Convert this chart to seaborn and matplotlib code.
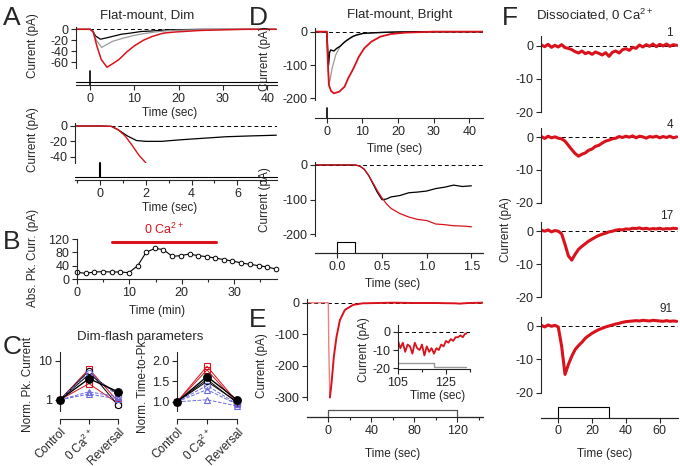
import numpy as np
import pandas as pd
import seaborn as sns
import matplotlib.pyplot as plt

sns.set_style("ticks")
plt.rcParams['font.family'] = ['Liberation Sans', 'DejaVu Sans']
plt.rcParams['axes.unicode_minus'] = False
plt.rcParams['mathtext.default'] = 'regular'

RED = "#d9121c"
GRAY = "#9a9a9a"
BLUE = "#6a6ae0"

# ---- A: flat-mount, dim flash (long time base)
a1_black_t = [-3.2, 0, 0.6, 1.2, 2.3, 4, 7, 9, 11.5, 14, 17.5, 21, 25, 30, 42]
a1_black_v = [0, 0, -3, -12, -18, -15, -9, -7, -4, -3, -1, -0.5, 0, 0, 0]
a1_gray_t = [-3.2, 0, 0.6, 1.4, 2.6, 5, 7.5, 10, 12, 14.5, 17, 19, 23, 30, 42]
a1_gray_v = [0, 0, -4, -20, -33, -22, -16, -11, -8, -5, -3, -2, -1, 0, 0]
a1_red_t = [-3.2, 0, 0.7, 1.5, 2.5, 3.8, 5, 6.5, 8.3, 10, 12, 14, 16.5, 19, 21, 25, 30, 35, 42]
a1_red_v = [0, 0, -5, -30, -55, -69, -63, -55, -41, -30, -20, -13, -7, -5, -4, -2, -1, 0, 0]

# ---- A: short time base
a2_black_t = [-1.1, 0, 0.5, 0.8, 1.2, 1.6, 2.0, 2.7, 3.5, 4.5, 5.5, 6.5, 7.7]
a2_black_v = [0, 0, -0.5, -5, -13, -19, -20, -20, -18, -16, -14, -13, -12]
a2_red_t = [-1.1, 0, 0.5, 0.8, 1.1, 1.4, 1.7, 2.0]
a2_red_v = [0, 0, -0.5, -5, -13, -25, -38, -48]

# ---- B: absolute peak current vs time
b_time = [0, 1.7, 3.3, 5.0, 6.6, 8.3, 9.9, 11.6, 13.2, 14.9, 16.5, 18.2, 19.8,
          21.5, 23.1, 24.8, 26.4, 28.1, 29.7, 31.4, 33.0, 34.7, 36.3, 38.0]
b_curr = [20, 17, 21, 22, 21, 21, 19, 40, 80, 92, 88, 68, 70,
          75, 70, 67, 63, 58, 54, 48, 44, 40, 36, 30]
b_bar = [6.7, 26.5]

# ---- C: dim flash parameters (Control, 0 Ca, Reversal)
c_cond = ["Control", "0 Ca$^{2+}$", "Reversal"]
c_series = ["red_sq1", "red_sq2", "blk_o", "blk_line", "blu_o", "blu_tri1", "blu_tri2", "mean"]
c_pk = {
    "red_sq1": [1, 6.2, 0.9],
    "red_sq2": [1, 2.6, 0.8],
    "blk_o": [1, 5.6, 0.72],
    "blk_line": [1, 4.5, 1.4],
    "blu_o": [1, 5.0, 1.25],
    "blu_tri1": [1, 1.6, 1.2],
    "blu_tri2": [1, 1.4, 1.05],
    "mean": [1, 3.5, 1.6],
}
c_ttp = {
    "red_sq1": [1, 1.87, 1.0],
    "red_sq2": [1, 1.78, 0.97],
    "blk_o": [1, 1.5, 1.0],
    "blk_line": [1, 1.55, 0.98],
    "blu_o": [1, 1.4, 0.95],
    "blu_tri1": [1, 1.3, 0.94],
    "blu_tri2": [1, 1.05, 0.9],
    "mean": [1, 1.62, 1.05],
}

# ---- D: flat-mount, bright flash
d1_black_t = [-3.3, 0, 0.2, 0.5, 0.8, 1.1, 2.0, 2.8, 3.7, 4.6, 5.5, 6.5, 7.4, 8.3, 10.2, 12, 13.9, 16, 19.4, 25, 30, 43.8]
d1_black_v = [0, 0, -40, -100, -62, -55, -58, -50, -44, -35, -27, -20, -14, -10, -5, -4, -3, -2, -1, 0, 0, 0]
d1_gray_t = [-3.3, 0, 0.3, 0.6, 1.0, 1.5, 2.5, 3.7, 5, 7, 10, 14, 20, 43.8]
d1_gray_v = [0, 0, -90, -160, -140, -110, -70, -45, -30, -15, -6, -3, -1, 0]
d1_red_t = [-3.3, 0, 0.3, 0.6, 1.2, 2.0, 3.5, 5, 6, 7.5, 9, 10.5, 12.5, 15, 18, 22, 30, 43.8]
d1_red_v = [0, 0, -90, -160, -178, -185, -180, -165, -140, -110, -75, -50, -30, -15, -7, -3, 0, 0]

d2_black_t = [-0.25, 0.0, 0.2, 0.25, 0.3, 0.35, 0.4, 0.45, 0.5, 0.55, 0.6, 0.7, 0.8, 0.9, 1.0, 1.1, 1.2, 1.3, 1.4, 1.5]
d2_black_v = [0, 0, 0, -3, -12, -30, -55, -80, -100, -98, -92, -88, -80, -78, -75, -68, -64, -58, -62, -60]
d2_red_t = [-0.25, 0.0, 0.2, 0.25, 0.3, 0.35, 0.4, 0.45, 0.5, 0.55, 0.6, 0.7, 0.8, 0.9, 1.0, 1.1, 1.2, 1.3, 1.4, 1.5]
d2_red_v = [0, 0, 0, -3, -12, -30, -52, -75, -95, -112, -125, -140, -150, -157, -160, -170, -172, -175, -176, -178]

# ---- E: long step, bright
e_t = [-20, 0, 0.5, 1.5, 3, 5.2, 7.7, 10.8, 15.4, 23, 32, 45, 60, 80, 100, 118, 122, 130, 143.9]
e_v = [0, 0, -150, -300, -255, -170, -107, -55, -23, -7, -2, -1, 0, -1, -1, -2, -3, -1, 0]
e_in_t = [105, 106, 107, 108, 109, 110, 111, 112, 113, 114, 115, 116, 117, 118, 119, 120,
          121, 122, 123, 124, 125, 126, 127, 128, 129, 130, 131, 132, 133, 133.5]
e_in_v = [-5, -9, -6, -11, -7, -8, -12, -6, -9, -10, -7, -13, -8, -11, -9, -12,
          -9, -10, -7, -8, -5, -6, -4, -5, -3, -3, -2, -3, -1, -1]

# ---- F: dissociated rod, 0 Ca, 4 trials
f_time = [-10, -8, -6, -4, -2, 0, 2, 4, 6, 8, 10, 12, 14, 16, 18, 20, 22, 24, 26, 28, 30,
          32, 34, 36, 38, 40, 42, 44, 46, 48, 50, 52, 54, 56, 58, 60, 62, 64, 66, 68, 70]
f_trial_labels = ["1", "4", "17", "91"]
f_traces = [
    [0.2, -0.3, 0.4, -0.5, 0.1, -0.4, 0.3, -0.6, -0.8, -1.2, -1.8, -2.2, -1.6, -2.4, -2.0, -2.6,
     -1.9, -2.3, -2.8, -2.1, -3.2, -2.0, -1.6, -2.2, -1.2, -0.9, -1.4, -0.5, -0.8, 0.2, -0.4,
     0.3, -0.2, 0.5, -0.3, 0.4, -0.1, 0.5, -0.2, 0.3, 0.1],
    [0.2, -0.4, 0.3, -0.2, 0.1, -0.3, -0.5, -1.2, -2.5, -3.8, -5.0, -5.8, -5.2, -4.8, -4.0, -3.6,
     -2.8, -2.5, -1.8, -1.2, -0.9, -0.5, -0.3, 0.2, -0.1, 0.3, 0.0, 0.4, -0.2, 0.3, 0.1,
     -0.3, 0.2, 0.0, 0.3, -0.2, 0.2, -0.1, 0.3, -0.2, 0.1],
    [0.3, 0.0, 0.4, -0.2, 0.2, 0.0, -0.8, -4.0, -7.5, -8.8, -7.0, -5.5, -4.6, -3.8, -3.0, -2.4,
     -1.8, -1.3, -0.9, -0.6, -0.2, 0.0, 0.3, 0.5, 0.4, 0.7, 0.6, 0.9, 0.8, 1.0, 0.7,
     0.9, 0.6, 0.8, 0.7, 0.9, 0.6, 0.8, 0.7, 0.9, 0.8],
    [0.3, -0.2, 0.4, 0.0, 0.3, -0.2, -6.0, -14.5, -11.5, -9.0, -7.0, -5.8, -4.8, -3.6, -2.8, -2.1,
     -1.5, -1.0, -0.6, -0.2, 0.1, 0.4, 0.7, 0.9, 1.2, 1.4, 1.5, 1.6, 1.7, 1.6, 1.8,
     1.7, 1.6, 1.8, 1.7, 1.6, 1.5, 1.7, 1.5, 1.6, 1.5],
]

W, H = 680, 466
fig = plt.figure(figsize=(6.8, 4.66), dpi=100)
FS = 8.5      # axis labels
TFS = 9       # tick labels
TITLE = 9.5


def px_axes(x0, y0, x1, y1):
    ax = fig.add_axes([x0 / W, 1 - y1 / H, (x1 - x0) / W, (y1 - y0) / H])
    ax.patch.set_alpha(0)
    ax.tick_params(labelsize=TFS, length=3.5, width=0.8, pad=2, direction='out')
    for s in ax.spines.values():
        s.set_linewidth(0.8)
    return ax


def ftext(x, y, s, **kw):
    kw.setdefault('fontsize', FS)
    kw.setdefault('ha', 'center')
    kw.setdefault('va', 'center')
    fig.text(x / W, 1 - y / H, s, **kw)


def trace_ax(box, xlim, ylim, yticks):
    ax = px_axes(*box)
    ax.set_xlim(xlim)
    ax.set_ylim(ylim)
    for s in ['top', 'right', 'bottom']:
        ax.spines[s].set_visible(False)
    ax.set_xticks([])
    ax.set_yticks(yticks)
    return ax


def stim_ax(box, xlim, xticks, minor=None, labels=None):
    ax = px_axes(*box)
    ax.set_xlim(xlim)
    ax.set_ylim(0, box[3] - box[1])
    for s in ['top', 'right', 'left']:
        ax.spines[s].set_visible(False)
    ax.set_yticks([])
    ax.set_xticks(xticks)
    if labels is not None:
        ax.set_xticklabels(labels)
    if minor is not None:
        ax.set_xticks(minor, minor=True)
        ax.tick_params(which='minor', length=2.5, width=0.8)
    return ax


def zero_line(ax):
    ax.axhline(0, color='k', lw=0.7, ls=(0, (4, 3)), zorder=0)


def trace(ax, t, v, color, lw=1.0, **kw):
    sns.lineplot(x=t, y=v, ax=ax, color=color, lw=lw, sort=False, **kw)


# ================= A =================
ax = trace_ax((76, 27, 277, 68), (-3.2, 42.2), (-70.4, 4.2), [0, -20, -40, -60])
zero_line(ax)
trace(ax, a1_black_t, a1_black_v, 'k', 0.9)
trace(ax, a1_gray_t, a1_gray_v, GRAY, 0.9)
trace(ax, a1_red_t, a1_red_v, RED, 1.1)
ax = stim_ax((76, 70, 277, 85), (-3.2, 42.2), [0, 10, 20, 30, 40])
ax.plot([-3.2, 42.2], [3, 3], color='k', lw=0.8, clip_on=False)
ax.plot([0, 0], [0, 14], color='k', lw=1.2, clip_on=False)
ftext(170, 113, "Time (sec)")
ftext(33, 46, "Current (pA)", rotation=90)
ftext(147, 15, "Flat-mount, Dim", fontsize=TITLE)

ax = trace_ax((75, 123, 277, 163), (-1.09, 7.73), (-48.2, 3.9), [0, -20, -40])
ax.plot([0.5, 7.73], [0, 0], color='k', lw=0.7, ls=(0, (4, 3)), zorder=0)
trace(ax, a2_black_t, a2_black_v, 'k', 0.9)
trace(ax, a2_red_t, a2_red_v, RED, 1.0)
ax = stim_ax((75, 162, 277, 180), (-1.09, 7.73), [0, 2, 4, 6], minor=[-1, 1, 3, 5, 7])
ax.plot([-1.09, 7.73], [3, 3], color='k', lw=0.8, clip_on=False)
ax.plot([0, 0], [3, 17], color='k', lw=1.5, clip_on=False)
ftext(170, 208, "Time (sec)")
ftext(33, 140, "Current (pA)", rotation=90)

# ================= B =================
ax = px_axes(77, 239, 277, 279)
sns.lineplot(x=b_time, y=b_curr, ax=ax, color='k', lw=0.8, marker='o', markersize=3.3,
             markerfacecolor='white', markeredgecolor='k', markeredgewidth=0.7, clip_on=False)
ax.set_xlim(0, 38.2)
ax.set_ylim(0, 120)
ax.set_yticks([0, 40, 80, 120])
ax.set_xticks([0, 10, 20, 30])
ax.set_xticks([5, 15, 25, 35], minor=True)
ax.tick_params(which='minor', length=2.5, width=0.8)
sns.despine(ax=ax)
ax.plot(b_bar, [111, 111], color=RED, lw=2.2, clip_on=False)
ax.text(np.mean(b_bar), 126, "0 Ca$^{2+}$", color=RED, fontsize=TFS, ha='center', va='bottom')
ftext(157, 311, "Time (min)")
ftext(33, 258, "Abs. Pk. Curr. (pA)", rotation=90)

# ================= C =================
styles = {
    "red_sq1": dict(color=RED, marker='s', ls='-', mfc='none'),
    "red_sq2": dict(color=RED, marker='s', ls='-', mfc='none'),
    "blk_o": dict(color='k', marker='o', ls='-', mfc='white'),
    "blk_line": dict(color='k', marker='', ls='-', mfc='none'),
    "blu_o": dict(color=BLUE, marker='o', ls='--', mfc='none'),
    "blu_tri1": dict(color=BLUE, marker='^', ls='--', mfc='none'),
    "blu_tri2": dict(color=BLUE, marker='^', ls='--', mfc='none'),
    "mean": dict(color='k', marker='o', ls='-', mfc='k'),
}


def c_panel(box, data, ylim, spine_lo, yticks, ylabels, log=False):
    ax = px_axes(*box)
    if log:
        ax.set_yscale('log')
    for name in c_series:
        st = styles[name]
        ax.plot([0, 1, 2], data[name], color=st['color'], marker=st['marker'], ls=st['ls'],
                mfc=st['mfc'], mec=st['color'], ms=5.5 if name == 'mean' else 4.5,
                lw=1.0 if name == 'mean' else 0.7, mew=0.8, clip_on=False,
                zorder=5 if name == 'mean' else 3)
    ax.set_xlim(0, 2)
    ax.set_ylim(ylim)
    ax.set_yticks(yticks)
    ax.set_yticklabels(ylabels)
    ax.yaxis.set_minor_locator(plt.NullLocator())
    ax.set_xticks([0, 1, 2])
    ax.set_xticklabels(c_cond, rotation=45, ha='right', rotation_mode='anchor', fontsize=8.5)
    ax.tick_params(axis='x', pad=1.5)
    for s in ['top', 'right']:
        ax.spines[s].set_visible(False)
    ax.spines['left'].set_bounds(spine_lo, ylim[1])
    return ax


c_panel((60, 352, 118, 419), c_pk, (0.32, 16.9), 0.52, [1, 10], ["1", "10"], log=True)
c_panel((177, 352, 237, 419), c_ttp, (0.58, 2.22), 0.78, [1.0, 1.5, 2.0], ["1.0", "1.5", "2.0"])
ftext(140, 337, "Dim-flash parameters", fontsize=TITLE)
ftext(28, 385, "Norm. Pk. Current", rotation=90)
ftext(143, 385, "Norm. Time-to-Pk.", rotation=90)

# ================= D =================
ax = trace_ax((315, 28, 483, 100), (-3.3, 43.8), (-205, 11), [0, -100, -200])
zero_line(ax)
trace(ax, d1_gray_t, d1_gray_v, GRAY, 0.9)
trace(ax, d1_black_t, d1_black_v, 'k', 1.0)
trace(ax, d1_red_t, d1_red_v, RED, 1.3)
ax = stim_ax((315, 106, 483, 118), (-3.3, 43.8), [0, 10, 20, 30, 40])
ax.plot([0, 0], [0, 10], color='k', lw=1.2, clip_on=False)
ftext(395, 149, "Time (sec)")
ftext(265, 59, "Current (pA)", rotation=90)
ftext(400, 15, "Flat-mount, Bright", fontsize=TITLE)

ax = trace_ax((315, 162, 483, 236), (-0.25, 1.63), (-204.6, 8.6), [0, -100, -200])
zero_line(ax)
trace(ax, d2_black_t, d2_black_v, 'k', 0.9)
trace(ax, d2_red_t, d2_red_v, RED, 0.9)
ax = stim_ax((315, 238, 483, 253), (-0.25, 1.63), [0.0, 0.5, 1.0, 1.5],
             labels=["0.0", "0.5", "1.0", "1.5"])
ax.plot([-0.25, 0, 0, 0.2, 0.2, 1.63], [0, 0, 11, 11, 0, 0], color='k', lw=0.8, clip_on=False)
ftext(393, 284, "Time (sec)")
ftext(265, 200, "Current (pA)", rotation=90)

# ================= E =================
ax = trace_ax((307, 299, 483, 400), (-19.8, 143.9), (-308, 11.7), [0, -100, -200, -300])
zero_line(ax)
ax.plot(e_t[:4], e_v[:4], color="#f08080", lw=1.0)
trace(ax, e_t[3:], e_v[3:], RED, 1.4)
ax = stim_ax((307, 405, 483, 417.3), (-19.8, 143.9), [0, 40, 80, 120], minor=[20, 60, 100, 140])
ax.plot([-19.8, 0, 0, 120, 120, 143.9], [0, 0, 7, 7, 0, 0], color='#555555', lw=0.9, clip_on=False)
ftext(393, 454, "Time (sec)")
ftext(262, 366, "Current (pA)", rotation=90)

ax = px_axes(398, 325, 470, 369)
ax.set_xlim(105, 133.5)
ax.set_ylim(-20.4, 3.7)
zero_line(ax)
trace(ax, e_in_t, e_in_v, RED, 1.3)
ax.plot([105, 120, 120, 133.5], [-17.1, -17.1, -19.1, -19.1], color=GRAY, lw=1.0)
ax.set_yticks([0, -10, -20])
ax.set_xticks([105, 125])
ax.set_xticks([115, 135], minor=True)
ax.tick_params(which='minor', length=2.5, width=0.8)
sns.despine(ax=ax)
ftext(438, 396, "Time (sec)")
ftext(364, 350, "Current (pA)", rotation=90)

# ================= F =================
f_boxes = [(541, 36, 678, 112.3), (541, 128, 678, 202.7), (541, 222, 678, 297), (541, 317, 678, 392.7)]
f_ylims = [(-20, 2.9), (-20, 2.8), (-20, 2.8), (-20, 2.8)]
f_label_y = [33, 125, 216, 309]
for box, yl, vals, lab, ly in zip(f_boxes, f_ylims, f_traces, f_trial_labels, f_label_y):
    ax = trace_ax(box, (-10.2, 70.8), yl, [0, -10, -20])
    zero_line(ax)
    trace(ax, f_time, vals, RED, 2.2)
    ftext(673, ly, lab, ha='right')
ax = stim_ax((541, 405, 678, 417.7), (-10.2, 70.8), [0, 20, 40, 60])
ax.plot([-10.2, 0, 0, 30, 30, 70.8], [0, 0, 11, 11, 0, 0], color='k', lw=0.8, clip_on=False)
ftext(605, 454, "Time (sec)")
ftext(506, 230, "Current (pA)", rotation=90)
ftext(595, 15, "Dissociated, 0 Ca$^{2+}$", fontsize=TITLE)

# ---- panel letters
for letter, x, y in [("A", 12, 18), ("B", 12, 242), ("C", 12, 347),
                     ("D", 258, 18), ("E", 258, 320), ("F", 510, 18)]:
    ftext(x, y, letter, fontsize=19)

fig.savefig("out.png", dpi=100)
